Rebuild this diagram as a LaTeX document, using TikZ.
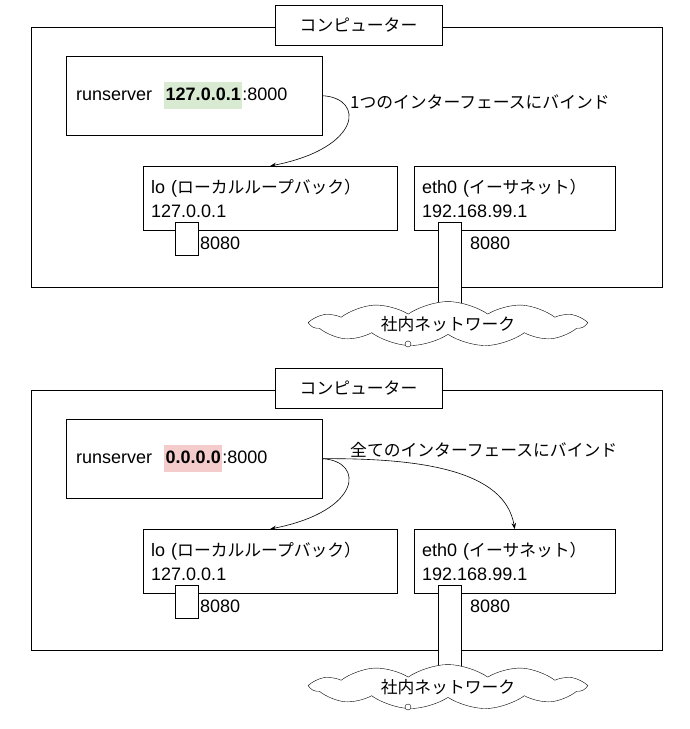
\documentclass[tikz,border=0pt]{standalone}
\usepackage{fontspec}
\setmainfont{Liberation Sans}
\newfontfamily\jpfont{Noto Sans CJK JP}
\usetikzlibrary{shapes.symbols,arrows.meta,positioning}
\definecolor{hlgreen}{HTML}{D9EAD3}
\definecolor{hlred}{HTML}{F4CCCC}
\newcommand{\jtext}[1]{{\jpfont\fontsize{16.8}{24}\selectfont #1}}
\newcommand{\hlbox}[2]{{\setlength{\fboxsep}{1.5pt}\colorbox{#1}{\strut\textbf{#2}}}}

\begin{document}
\begin{tikzpicture}[
    x=1pt, y=-1pt,
    font=\fontsize{18}{24}\selectfont,
    pcbox/.style={rectangle, draw, line width=0.9pt, minimum width=631pt, minimum height=260pt, inner sep=0pt, anchor=north west},
    titlebox/.style={rectangle, draw, fill=white, minimum width=167pt, minimum height=40pt},
    serverbox/.style={rectangle, draw, minimum height=79pt, text width=236pt, inner xsep=10pt, align=left, anchor=north west},
    ifbox/.style={rectangle, draw, minimum height=64pt, inner xsep=8pt, inner ysep=2pt, align=left, anchor=north west},
    port/.style={rectangle, draw, fill=white, minimum width=23pt, inner sep=0pt, anchor=north west},
    net/.style={cloud, draw, fill=white, cloud puffs=11, cloud puff arc=70, aspect=6.5, minimum width=273pt, minimum height=42pt, inner sep=0pt},
    note/.style={anchor=west, inner sep=0pt},
    bind/.style={-{Stealth[length=6pt, width=4.5pt]}, line width=0.6pt}
]
    \useasboundingbox (0,0) rectangle (690,729);

    % top: bound to one interface
    \node[pcbox] (pc1) at (31,27) {};
    \node[titlebox] (title1) at (358.5,25) {\jtext{コンピューター}};
    \node[serverbox] (rs1) at (66,56) {runserver\hspace{12pt}\hlbox{hlgreen}{127.0.0.1}:8000};
    \node[ifbox, minimum width=254pt, text width=238pt] (lo1) at (143,166) {lo (\jtext{ローカルループバック）}\\127.0.0.1};
    \node[ifbox, minimum width=201pt, text width=185pt] (eth1) at (414,166) {eth0 (\jtext{イーサネット）}\\192.168.99.1};
    \node[port, minimum height=33pt] (loport1) at (175,222) {};
    \node[port, minimum height=81pt] (ethport1) at (438,222) {};
    \node[note] (lonum1) at (200,243) {8080};
    \node[note] (ethnum1) at (470,243) {8080};
    \node[net] (lan1) at (448,324) {\jtext{社内ネットワーク}};
    \node[circle, draw, fill=white, minimum size=6pt, inner sep=0pt] (loop1) at (408,344) {};
    \node[note] (bindnote1) at (350,102) {\jtext{1つのインターフェースにバインド}};
    \draw[bind] (rs1.east) .. controls (365,98) and (362,148) .. (lo1.north);

    % bottom: bound to all interfaces
    \begin{scope}[shift={(0,363)}]
    \node[pcbox] (pc2) at (31,27) {};
    \node[titlebox] (title2) at (358.5,25) {\jtext{コンピューター}};
    \node[serverbox] (rs2) at (66,56) {runserver\hspace{12pt}\hlbox{hlred}{0.0.0.0}:8000};
    \node[ifbox, minimum width=254pt, text width=238pt] (lo2) at (143,166) {lo (\jtext{ローカルループバック）}\\127.0.0.1};
    \node[ifbox, minimum width=201pt, text width=185pt] (eth2) at (414,166) {eth0 (\jtext{イーサネット）}\\192.168.99.1};
    \node[port, minimum height=33pt] (loport2) at (175,222) {};
    \node[port, minimum height=81pt] (ethport2) at (438,222) {};
    \node[note] (lonum2) at (200,243) {8080};
    \node[note] (ethnum2) at (470,243) {8080};
    \node[net] (lan2) at (448,324) {\jtext{社内ネットワーク}};
    \node[circle, draw, fill=white, minimum size=6pt, inner sep=0pt] (loop2) at (408,344) {};
    \node[note] (bindnote2) at (350,87) {\jtext{全てのインターフェースにバインド}};
    \draw[bind] (rs2.east) .. controls (365,98) and (362,148) .. (lo2.north);
    \draw[bind] (rs2.east) .. controls (420,95) and (505,107) .. (eth2.north);
    \end{scope}
\end{tikzpicture}
\end{document}
